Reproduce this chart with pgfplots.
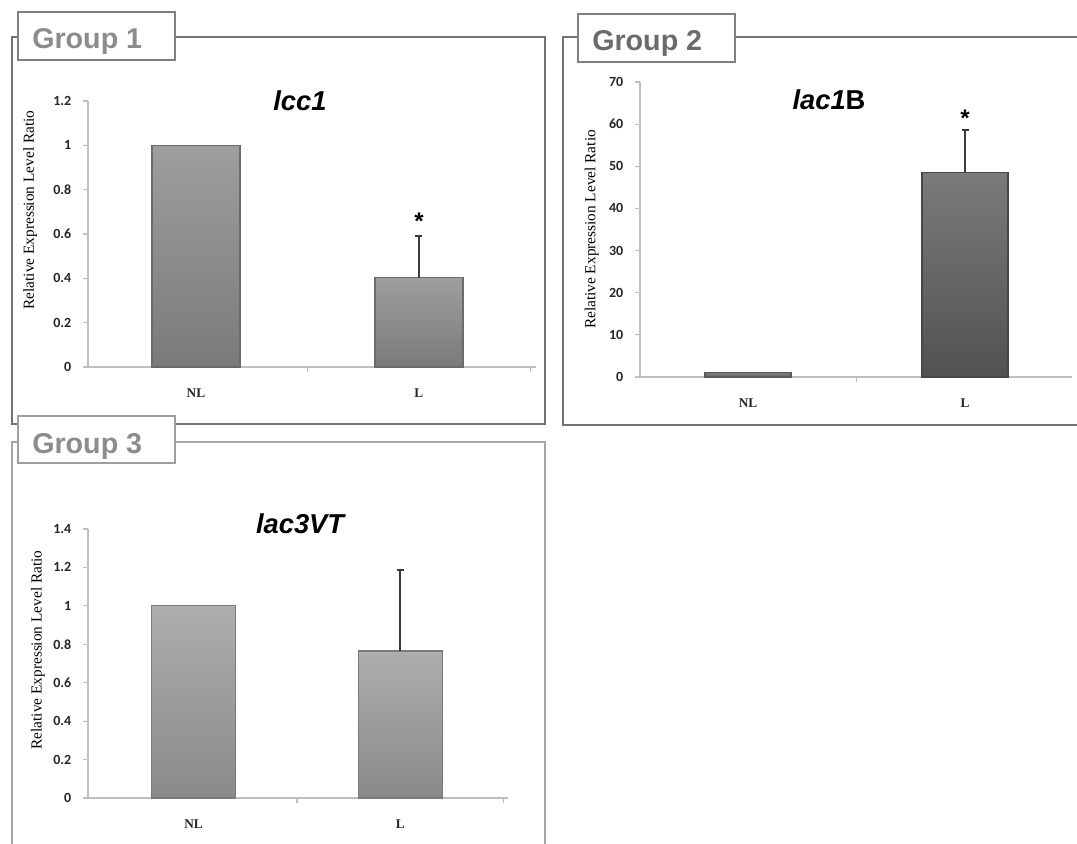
\documentclass[border=0pt]{standalone}
\usepackage{fontspec}
\setmainfont{Liberation Serif}
\setsansfont{Liberation Sans}
\newfontfamily\carlito{Carlito}
\usepackage{pgfplots}
\pgfplotsset{compat=1.18}
\definecolor{axisgray}{HTML}{BFBFBF}
\definecolor{errgray}{HTML}{3A3A3A}
\definecolor{frameA}{HTML}{737373}
\definecolor{frameC}{HTML}{A6A6A6}
\pgfplotsset{
  base/.style={
    scale only axis,
    axis lines*=left,
    axis line style={draw=axisgray, line width=1.1pt},
    ymin=0,
    xtick={0,1}, xticklabels={NL,L},
    xtick style={draw=none},
    ytick style={draw=axisgray, line width=0.8pt},
    tick align=outside,
    major tick length=4pt,
    extra x ticks={0.5,1.5},
    extra x tick labels={},
    extra x tick style={xtick style={draw=axisgray, line width=0.8pt}},
    xticklabel style={font=\rmfamily\bfseries\fontsize{10}{10}\selectfont, yshift=-9pt, text=black!85},
    yticklabel style={font=\carlito\bfseries\fontsize{10.5}{10}\selectfont, xshift=-5pt, text=black!85},
    /pgf/number format/assume math mode=true,
    ylabel={Relative Expression Level Ratio},
    title style={font=\sffamily\bfseries\itshape\fontsize{20.5}{22}\selectfont, anchor=base},
  },
  barstyle/.style={ybar, bar shift=0pt, line width=0.9pt},
  errstyle/.style={error bars/.cd, y dir=plus, y explicit,
     error bar style={draw=errgray, line width=1.5pt},
     error mark options={rotate=90, draw=errgray, line width=1.5pt, mark size=2.6pt}},
}
\begin{document}
\begin{tikzpicture}
\begin{scope}[x=0.75pt,y=-0.75pt]
\useasboundingbox (0,0) rectangle (1077,843);
% frames
\draw[frameA, line width=2.2pt] (12,37) rectangle (545,424);
\draw[frameA, line width=2.2pt] (563,37) rectangle (1095,425);
\draw[frameC, line width=2.2pt] (12,442) rectangle (545,870);
% label boxes
\draw[fill=white, draw=black!50, line width=1.8pt] (18,12) rectangle (175,60);
\draw[fill=white, draw=black!50, line width=1.8pt] (578,14) rectangle (735,62);
\draw[fill=white, draw=black!38, line width=1.8pt] (18,416) rectangle (175,463);
\node[anchor=base west, inner sep=0pt, text=black!45, font=\sffamily\bfseries\fontsize{21.5}{22}\selectfont] at (32,48) {Group 1};
\node[anchor=base west, inner sep=0pt, text=black!58, font=\sffamily\bfseries\fontsize{21.5}{22}\selectfont] at (592,50) {Group 2};
\node[anchor=base west, inner sep=0pt, text=black!45, font=\sffamily\bfseries\fontsize{21.5}{22}\selectfont] at (32,453) {Group 3};
\end{scope}

% Group 1
\begin{axis}[base, at={(88*0.75pt,-367*0.75pt)}, anchor=south west,
  width=336pt, height=199.5pt, xmin=-0.484, xmax=1.525, ymax=1.2,
  ytick={0,0.2,0.4,0.6,0.8,1,1.2},
  ylabel style={font=\rmfamily\fontsize{11.5}{12}\selectfont, at={(axis description cs:-0.129,0.59)}, anchor=center},
  title={lcc1}, title style={at={(axis description cs:0.473,0.936)}}]
\addplot[barstyle, bar width=66pt, draw=black!58, top color=black!38, bottom color=black!52] coordinates {(0,1)};
\addplot[barstyle, bar width=66pt, draw=black!58, top color=black!38, bottom color=black!52, errstyle] coordinates {(1,0.402) +- (0,0.191)};
\node[font=\sffamily\bfseries\fontsize{18}{18}\selectfont, yshift=-3.5pt] at (axis cs:1,0.677) {*};
\end{axis}

% Group 2
\begin{axis}[base, at={(640*0.75pt,-377*0.75pt)}, anchor=south west,
  width=324pt, height=221.25pt, xmin=-0.498, xmax=1.493, ymax=70,
  ytick={0,10,...,70},
  ylabel style={font=\rmfamily\fontsize{11.5}{12}\selectfont, at={(axis description cs:-0.112,0.5)}, anchor=center},
  title={lac\textup{\textit{1}}\textup{B}}, title style={at={(axis description cs:0.4375,0.878)}}]
\addplot[barstyle, bar width=64.5pt, draw=black!65, top color=black!52, bottom color=black!60] coordinates {(0,1)};
\addplot[barstyle, bar width=64.5pt, draw=black!72, top color=black!52, bottom color=black!68, errstyle] coordinates {(1,48.6) +- (0,10.0)};
\node[font=\sffamily\bfseries\fontsize{18}{18}\selectfont, yshift=-3.5pt] at (axis cs:1,62.6) {*};
\end{axis}

% Group 3
\begin{axis}[base, at={(88*0.75pt,-798*0.75pt)}, anchor=south west,
  width=315pt, height=201.75pt, xmin=-0.51, xmax=1.52, ymax=1.4,
  ytick={0,0.2,0.4,0.6,0.8,1,1.2,1.4},
  ylabel style={font=\rmfamily\fontsize{11.5}{12}\selectfont, at={(axis description cs:-0.119,0.55)}, anchor=center},
  title={lac3VT}, title style={at={(axis description cs:0.505,0.955)}}]
\addplot[barstyle, bar width=63pt, draw=black!52, top color=black!32, bottom color=black!46] coordinates {(0,1)};
\addplot[barstyle, bar width=63pt, draw=black!52, top color=black!32, bottom color=black!46, errstyle] coordinates {(1,0.765) +- (0,0.422)};
\end{axis}
\end{tikzpicture}
\end{document}
